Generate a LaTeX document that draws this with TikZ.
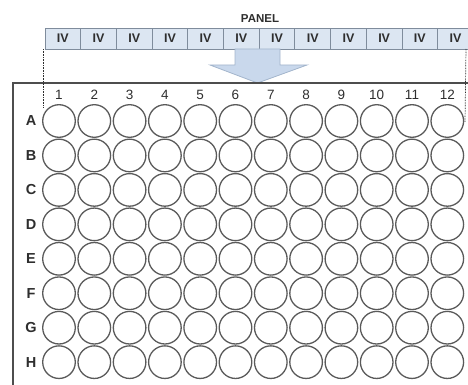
\documentclass[tikz,border=0pt]{standalone}
\usepackage{fontspec}
\setmainfont{Liberation Sans}
\usetikzlibrary{positioning, calc}
\definecolor{cellblue}{HTML}{DCE6F2}
\definecolor{celledge}{HTML}{7F8C9C}
\definecolor{arrowblue}{HTML}{C9D8EC}
\definecolor{arrowedge}{HTML}{A3B5CC}
\definecolor{wellgray}{HTML}{5A5A5A}
\definecolor{plategray}{HTML}{4D4D4D}
\definecolor{labeldark}{HTML}{2E2E2E}

\begin{document}
\begin{tikzpicture}[
    x=1pt, y=-1pt,
    % ── shared styles ──
    panel cell/.style={draw=celledge, line width=0.9pt, fill=cellblue,
        minimum width=35.7pt, minimum height=21pt, inner sep=0pt,
        font=\fontsize{12.5}{12.5}\selectfont\bfseries, text=labeldark},
    panel title/.style={font=\fontsize{11.5}{11.5}\selectfont\bfseries, text=labeldark},
    well/.style={circle, draw=wellgray, line width=1.3pt, minimum size=32.6pt,
        inner sep=0pt},
    col label/.style={font=\fontsize{13.5}{13.5}\selectfont, text=labeldark},
    row label/.style={font=\fontsize{14.5}{14.5}\selectfont\bfseries, text=labeldark},
    plate edge/.style={draw=plategray, line width=1.2pt},
    guide/.style={draw=labeldark, line width=0.7pt, dash pattern=on 0.8pt off 0.8pt},
    big arrow/.style={fill=arrowblue, draw=arrowedge, line width=0.8pt},
]

% ══════════════════════════════════════════════════════════════════════
%  DIMENSIONS
% ══════════════════════════════════════════════════════════════════════
\def\panelL{45}   \def\panelCy{38.5}  \def\cellW{35.7}
\def\wellX{59}    \def\wellY{121}
\def\wellDx{35.3} \def\wellDy{34.45}
\def\colY{95}     \def\rowX{31}

\useasboundingbox (0,0) rectangle (468,385);
\clip (0,0) rectangle (468,385);

% ══════════════════════════════════════════════════════════════════════
%  PANEL strip
% ══════════════════════════════════════════════════════════════════════
\foreach \i in {1,...,12}
  \node[panel cell] (cell-\i) at ({\panelL+\cellW*(\i-0.5)},\panelCy) {IV};
\node[panel title] (panel) at (260,19) {PANEL};

% ── arrow down to the plate ──
\draw[big arrow] (235,49) -- (280,49) -- (280,65) -- (307,65)
    -- (257.5,83) -- (210,65) -- (235,65) -- cycle;

% ══════════════════════════════════════════════════════════════════════
%  PLATE frame
% ══════════════════════════════════════════════════════════════════════
\draw[plate edge] (13,390) -- (13,83) -- (470,83);

% ── columns and rows ──
\foreach \c in {1,...,12}
  \node[col label] (col-\c) at ({\wellX+\wellDx*(\c-1)},\colY) {\c};
\foreach \r [count=\k] in {A,B,C,D,E,F,G,H} {
  \node[row label] (row-\r) at (\rowX,{\wellY+\wellDy*(\k-1)}) {\r};
  \foreach \c in {1,...,12}
    \node[well] (well-\r-\c) at ({\wellX+\wellDx*(\c-1)},{\wellY+\wellDy*(\k-1)}) {};
}

% ══════════════════════════════════════════════════════════════════════
%  GUIDE lines (panel → plate)
% ══════════════════════════════════════════════════════════════════════
\coordinate (guide-l) at (43,49);
\coordinate (guide-l end) at (43,108);
\coordinate (guide-r) at (466,49);
\coordinate (guide-r end) at (465,122);
\draw[guide] (guide-l) -- (guide-l end);
\draw[guide] (guide-r) -- (guide-r end);

\end{tikzpicture}
\end{document}
